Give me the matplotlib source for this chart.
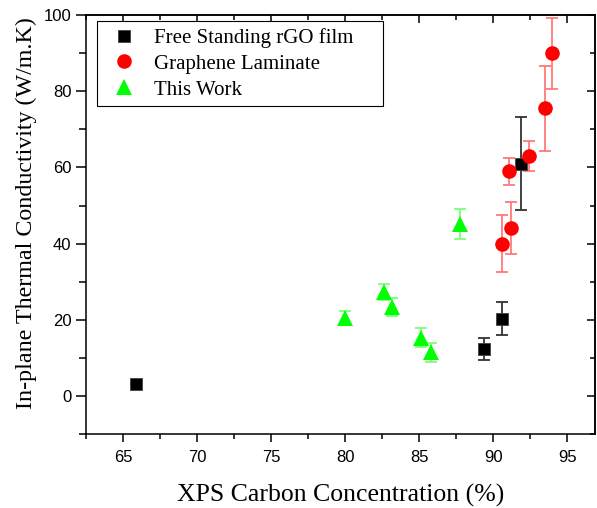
# coding=utf-8
import numpy as np
import matplotlib.pyplot as plt
from matplotlib.ticker import MultipleLocator

# Free Standing rGO film
rgo_x = [65.9, 89.4, 90.6, 91.9]
rgo_y = [3.0, 12.3, 20.3, 61.0]
rgo_err = [0.0, 2.8, 4.3, 12.2]

# Graphene Laminate
lam_x = [90.6, 91.2, 91.1, 92.4, 93.5, 94.0]
lam_y = [40.0, 44.0, 59.0, 63.0, 75.5, 90.0]
lam_err = [7.4, 6.8, 3.6, 4.0, 11.2, 9.3]

# This Work
tw_x = [80.0, 82.6, 83.2, 85.1, 85.8, 87.8]
tw_y = [20.4, 27.3, 23.4, 15.3, 11.4, 45.2]
tw_err = [1.8, 2.2, 2.4, 2.5, 2.6, 3.9]

plt.rcParams['font.family'] = ['Liberation Serif', 'DejaVu Serif']

fig = plt.figure(figsize=(5.97, 5.08), dpi=100)
ax = fig.add_axes([0.144, 0.146, 0.853, 0.824])

# error bars first, markers on top
ax.errorbar(rgo_x, rgo_y, yerr=rgo_err, fmt='none', ecolor='#333333',
            elinewidth=1.3, capsize=4, capthick=1.3, zorder=2)
ax.errorbar(lam_x, lam_y, yerr=lam_err, fmt='none', ecolor='#ff7070',
            elinewidth=1.2, capsize=4, capthick=1.2, zorder=2)
ax.errorbar(tw_x, tw_y, yerr=tw_err, fmt='none', ecolor='#70ff70',
            elinewidth=1.2, capsize=4, capthick=1.2, zorder=2)

ax.plot(rgo_x, rgo_y, 's', color='black', ms=8.6, mec='#404040', mew=0.6,
        label='Free Standing rGO film', zorder=3)
ax.plot(lam_x, lam_y, 'o', color='#ff0000', ms=10.5, mew=0,
        label='Graphene Laminate', zorder=3)
ax.plot(tw_x, tw_y, '^', color='#00ff00', ms=11.5, mew=0,
        label='This Work', zorder=3)

ax.set_xlim(62.5, 96.9)
ax.set_ylim(-10, 100)

ax.xaxis.set_major_locator(MultipleLocator(5))
ax.xaxis.set_minor_locator(MultipleLocator(2.5))
ax.yaxis.set_major_locator(MultipleLocator(20))
ax.yaxis.set_minor_locator(MultipleLocator(10))

ax.tick_params(which='major', direction='out', length=6, width=1.1,
               labelsize=12, labelfontfamily='Liberation Sans')
ax.tick_params(which='minor', direction='out', length=3.5, width=1.1)
ax.tick_params(axis='x', which='major', pad=6)
ax.tick_params(axis='y', which='major', length=7)
ax.tick_params(axis='y', which='minor', length=5)

# mirrored ticks pointing in on top and right
top = ax.secondary_xaxis('top')
top.xaxis.set_major_locator(MultipleLocator(5))
top.xaxis.set_minor_locator(MultipleLocator(2.5))
top.tick_params(which='major', direction='in', length=6, width=1.1, labeltop=False)
top.tick_params(which='minor', direction='in', length=3.5, width=1.1)
right = ax.secondary_yaxis('right')
right.yaxis.set_major_locator(MultipleLocator(20))
right.yaxis.set_minor_locator(MultipleLocator(10))
right.tick_params(which='major', direction='in', length=6, width=1.1, labelright=False)
right.tick_params(which='minor', direction='in', length=3.5, width=1.1)

for s in ax.spines.values():
    s.set_linewidth(1.1)
top.spines['top'].set_linewidth(1.1)
right.spines['right'].set_linewidth(1.1)

ax.set_xlabel('XPS Carbon Concentration (%)', fontsize=18.5, labelpad=13)
ax.set_ylabel('In-plane Thermal Conductivity (W/m.K)', fontsize=17.3)
ax.yaxis.set_label_coords(-0.096, 0.527)

leg = ax.legend(loc='upper left', bbox_to_anchor=(0.0216, 0.986, 0.562, 0.0),
                mode='expand', fontsize=15, frameon=True, fancybox=False,
                edgecolor='black', framealpha=1, borderaxespad=0,
                handletextpad=0.5, handlelength=1.9, borderpad=0.33,
                labelspacing=0.3)
leg.get_frame().set_linewidth(0.8)

plt.savefig('out.png', dpi=100)
